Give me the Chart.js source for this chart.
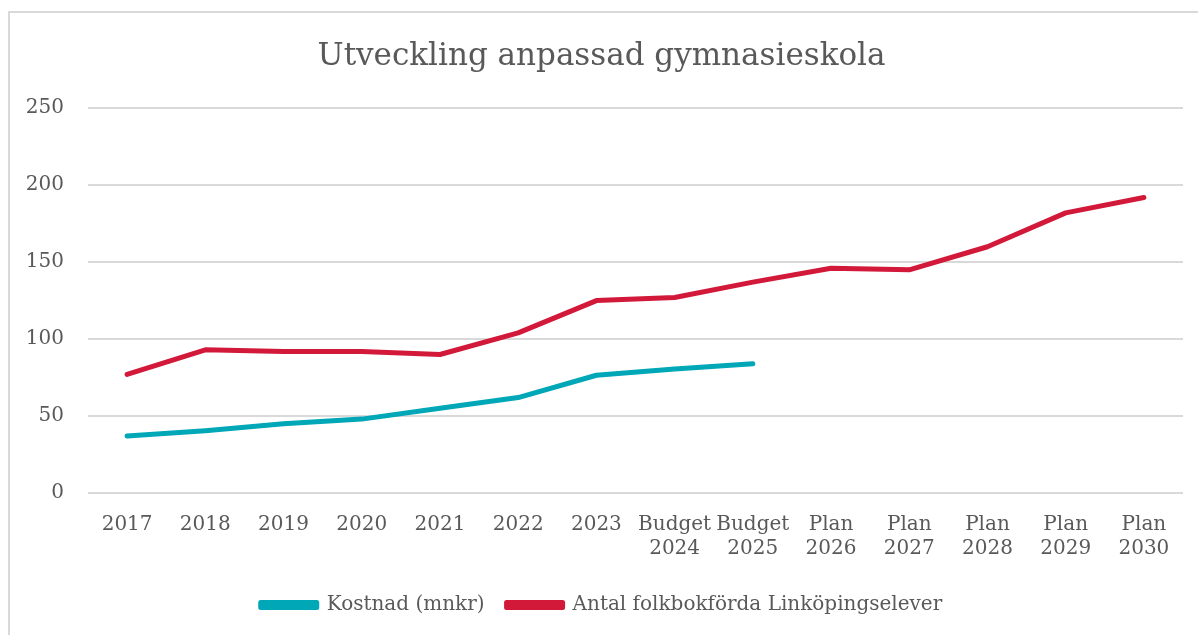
<!DOCTYPE html>
<html>
<head>
<meta charset="utf-8">
<script src="https://cdn.jsdelivr.net/npm/chart.js@4"></script>
<style>
  html, body { margin: 0; padding: 0; background: #fff; }
  #wrap { position: relative; width: 1198px; height: 635px; overflow: hidden; }
  #frame { position: absolute; left: 8px; top: 11px; width: 1300px; height: 700px;
           border-left: 2px solid #d9d9d9; border-top: 2px solid #d9d9d9; pointer-events: none; }
  canvas { position: absolute; left: 0; top: 0; }
</style>
</head>
<body>
<div id="wrap">
  <canvas id="chart" width="1198" height="635"></canvas>
  <div id="frame"></div>
</div>
<script>
// Data
const categories = ['2017', '2018', '2019', '2020', '2021', '2022', '2023',
  ['Budget', '2024'], ['Budget', '2025'], ['Plan', '2026'], ['Plan', '2027'],
  ['Plan', '2028'], ['Plan', '2029'], ['Plan', '2030']];
const kostnad = [37, 40.5, 45, 48, 55, 62, 76.5, 80.5, 84, null, null, null, null, null];
const elever = [77, 93, 92, 92, 90, 104, 125, 127, 137, 146, 145, 160, 182, 192];
const yTicks = [0, 50, 100, 150, 200, 250];

const FONT = "'DejaVu Serif', serif";
const TEXT = '#595959';

new Chart(document.getElementById('chart'), {
  type: 'line',
  data: {
    labels: categories,
    datasets: [
      {
        label: 'Kostnad (mnkr)',
        data: kostnad,
        borderColor: '#00a8b7',
        backgroundColor: '#00a8b7',
        borderWidth: 5,
        borderCapStyle: 'round',
        borderJoinStyle: 'round',
        pointRadius: 0,
        tension: 0,
        spanGaps: false
      },
      {
        label: 'Antal folkbokförda Linköpingselever',
        data: elever,
        borderColor: '#d3193a',
        backgroundColor: '#d3193a',
        borderWidth: 5,
        borderCapStyle: 'round',
        borderJoinStyle: 'round',
        pointRadius: 0,
        tension: 0
      }
    ]
  },
  options: {
    responsive: false,
    animation: false,
    layout: { padding: { left: 20, right: 15, top: 20, bottom: 10 } },
    plugins: {
      title: {
        display: true,
        text: 'Utveckling anpassad gymnasieskola',
        color: TEXT,
        font: { family: FONT, size: 31, weight: 'normal' },
        padding: { top: 18, bottom: 33 }
      },
      legend: {
        position: 'bottom',
        labels: {
          color: TEXT,
          font: { family: FONT, size: 20 },
          boxWidth: 56,
          boxHeight: 5,
          padding: 22
        }
      },
      tooltip: { enabled: false }
    },
    scales: {
      x: {
        offset: true,
        grid: { display: false },
        border: { display: false },
        ticks: {
          color: TEXT,
          font: { family: FONT, size: 20 },
          maxRotation: 0,
          autoSkip: false,
          padding: 12
        }
      },
      y: {
        min: 0,
        max: 250,
        afterBuildTicks: scale => { scale.ticks = yTicks.map(v => ({ value: v })); },
        afterFit: scale => { scale.width = 68; },
        grid: { color: '#d9d9d9', lineWidth: 2, drawTicks: false },
        border: { display: false },
        ticks: {
          color: TEXT,
          font: { family: FONT, size: 20 },
          padding: 24
        }
      }
    }
  }
});
</script>
</body>
</html>
